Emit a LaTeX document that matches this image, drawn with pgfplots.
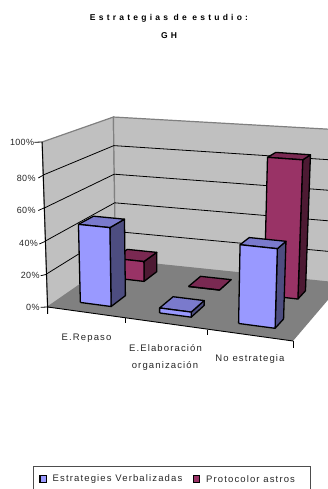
\documentclass[border=0pt]{standalone}
\usepackage{fontspec}
\setmainfont{Liberation Sans}
\usepackage{pgfplots}
\pgfplotsset{compat=1.18}
\definecolor{wallgray}{HTML}{C0C0C0}
\definecolor{floorgray}{HTML}{808080}
\definecolor{edgegray}{HTML}{808080}
\definecolor{bluefront}{HTML}{9999FF}
\definecolor{blueside}{HTML}{4D4D80}
\definecolor{bluetop}{HTML}{7A7ACC}
\definecolor{redfront}{HTML}{993366}
\definecolor{redside}{HTML}{4D1A33}
\definecolor{redtop}{HTML}{7A2952}
\newfontfamily\ticklabelfont[LetterSpace=4]{Liberation Sans}
\newfontfamily\labelfont[LetterSpace=12]{Liberation Sans}
\newfontfamily\titlefont[LetterSpace=38]{Liberation Sans}

% Perspective of the chart box: u = category position (0..3),
% v = depth (0 front, 1 back), z = percentage (0..100).
\pgfplotsset{
  /pgf/declare function={
    fw(\a,\b)=1-0.138*\a/3+0.1133*\b;
    fx(\a,\b)=(204.97*\a/3+80.99*\b+47.6)/fw(\a,\b);
    fy(\a,\b)=(-13.05*\a/3-17.54*\b+307)/fw(\a,\b);
    fh(\a,\b)=165/(1-0.076*\a/3+0.154*\b);
    px(\a,\b,\c)=fx(\a,\b)+0.00027*(fx(\a,\b)-170)*\c/100*fh(\a,\b);
    py(\a,\b,\c)=fy(\a,\b)-\c/100*fh(\a,\b);
  },
  /pgfplots/table/box/.style={
    row sep=\\,
    x expr={px(\thisrow{u},\thisrow{v},\thisrow{z})},
    y expr={py(\thisrow{u},\thisrow{v},\thisrow{z})}
  }
}
% One column: u0 u1 v0 v1 value, then front, side and top colours
\newcommand\column[8]{%
  \addplot[draw=black,line width=1.3pt,line join=round,fill=#7,mark=none] table[box]
    {u v z\\ #2 #3 0\\ #2 #4 0\\ #2 #4 #5\\ #2 #3 #5\\ #2 #3 0\\};
  \addplot[draw=black,line width=1.3pt,line join=round,fill=#8,mark=none] table[box]
    {u v z\\ #1 #3 #5\\ #2 #3 #5\\ #2 #4 #5\\ #1 #4 #5\\ #1 #3 #5\\};
  \addplot[draw=black,line width=1.3pt,line join=round,fill=#6,mark=none] table[box]
    {u v z\\ #1 #3 0\\ #2 #3 0\\ #2 #3 #5\\ #1 #3 #5\\ #1 #3 0\\};
}
% Grid line running along the side wall and then the back wall
\newcommand\gridline[1]{%
  \addplot[draw=black,line width=0.8pt,mark=none] table[box]
    {u v z\\ 0 0 #1\\ 0 1 #1\\ 3 1 #1\\};
}

\begin{document}
\begin{tikzpicture}[x=1pt,y=1pt]
\clip (0,0) rectangle (328,489);
\begin{axis}[
  at={(0,0)},anchor=south west,
  scale only axis,width=328pt,height=489pt,
  xmin=0,xmax=328,ymin=0,ymax=489,y dir=reverse,
  hide axis,clip=true
]
% walls and floor
\addplot[fill=wallgray,draw=edgegray,line width=1.2pt,mark=none] table[box]
  {u v z\\ 0 0 0\\ 0 1 0\\ 0 1 100\\ 0 0 100\\ 0 0 0\\};
\addplot[fill=wallgray,draw=edgegray,line width=1.2pt,mark=none] table[box]
  {u v z\\ 0 1 0\\ 3 1 0\\ 3 1 100\\ 0 1 100\\ 0 1 0\\};
\addplot[fill=floorgray,draw=none,mark=none] table[box]
  {u v z\\ 0 0 0\\ 3 0 0\\ 3 1 0\\ 0 1 0\\ 0 0 0\\};
\gridline{20}\gridline{40}\gridline{60}\gridline{80}
% front vertical axis and front floor edge
\addplot[draw=black,line width=0.9pt,mark=none] table[box]
  {u v z\\ 0 0 100\\ 0 0 0\\ 3 0 0\\};
% back row: Protocolor astros
\column{0.31}{0.73}{0.645}{0.855}{13}{redfront}{redside}{redtop}
\column{1.33}{1.73}{0.645}{0.855}{0}{redfront}{redside}{redtop}
\column{2.28}{2.68}{0.645}{0.80}{87}{redfront}{redside}{redtop}
% front row: Estrategies Verbalizadas
\column{0.31}{0.73}{0.145}{0.355}{48}{bluefront}{blueside}{bluetop}
\column{1.36}{1.75}{0.145}{0.355}{3}{bluefront}{blueside}{bluetop}
\column{2.31}{2.72}{0.145}{0.30}{46}{bluefront}{blueside}{bluetop}
\end{axis}
% tick marks, in page pixels measured from the top left corner
\begin{scope}[shift={(0,489)},y=-1pt,line width=0.8pt]
\draw (40.7,307.3) -- (47.6,307) -- (47.6,314);
\draw (40.7,275.7) -- (46,274.5);
\draw (39.3,244) -- (45,241.5);
\draw (38.3,210.5) -- (44,208);
\draw (38.3,178) -- (43.5,175);
\draw (34.3,142.3) -- (42,142);
\draw (125.7,318.5) -- (125.7,323.5);
\draw (207,330) -- (207,335.5);
\draw (293,341) -- (293,347.7);
\begin{scope}[every node/.style={inner sep=0pt,text=black!85}]
\begin{scope}[every node/.append style={font=\fontsize{9}{10}\ticklabelfont}]
\node[anchor=east] at (40,307.5) {0\%};
\node[anchor=east] at (40,275.5) {20\%};
\node[anchor=east] at (38.3,243.7) {40\%};
\node[anchor=east] at (36,210.3) {60\%};
\node[anchor=east] at (36,178.7) {80\%};
\node[anchor=east] at (34.5,142.3) {100\%};
\end{scope}
\begin{scope}[every node/.append style={font=\fontsize{9.5}{10}\labelfont}]
\node at (86.5,338.5) {E.Repaso};
\node at (165.5,348) {E.Elaboración};
\node at (165,366) {organización};
\node at (250,359.5) {No estrategia};
\node[anchor=west] at (52.3,479) {Estrategies Verbalizadas};
\node[anchor=west] at (205.7,479) {Protocolor astros};
\end{scope}
\node[font=\fontsize{8.5}{9}\titlefont\bfseries,text=black] at (169,18) {Estrategias de estudio:};
\node[font=\fontsize{8.5}{9}\titlefont\bfseries,text=black] at (169,36) {GH};
\end{scope}
% legend frame and keys
\draw[edgegray!60!black,line width=1pt] (33.3,466.7) rectangle (310,495);
\draw[black,line width=1.2pt,fill=bluefront] (40,475.5) rectangle (46.5,482.3);
\draw[black,line width=1.2pt,fill=redfront] (193.3,475.5) rectangle (199.8,482.3);
\end{scope}
\end{tikzpicture}
\end{document}
